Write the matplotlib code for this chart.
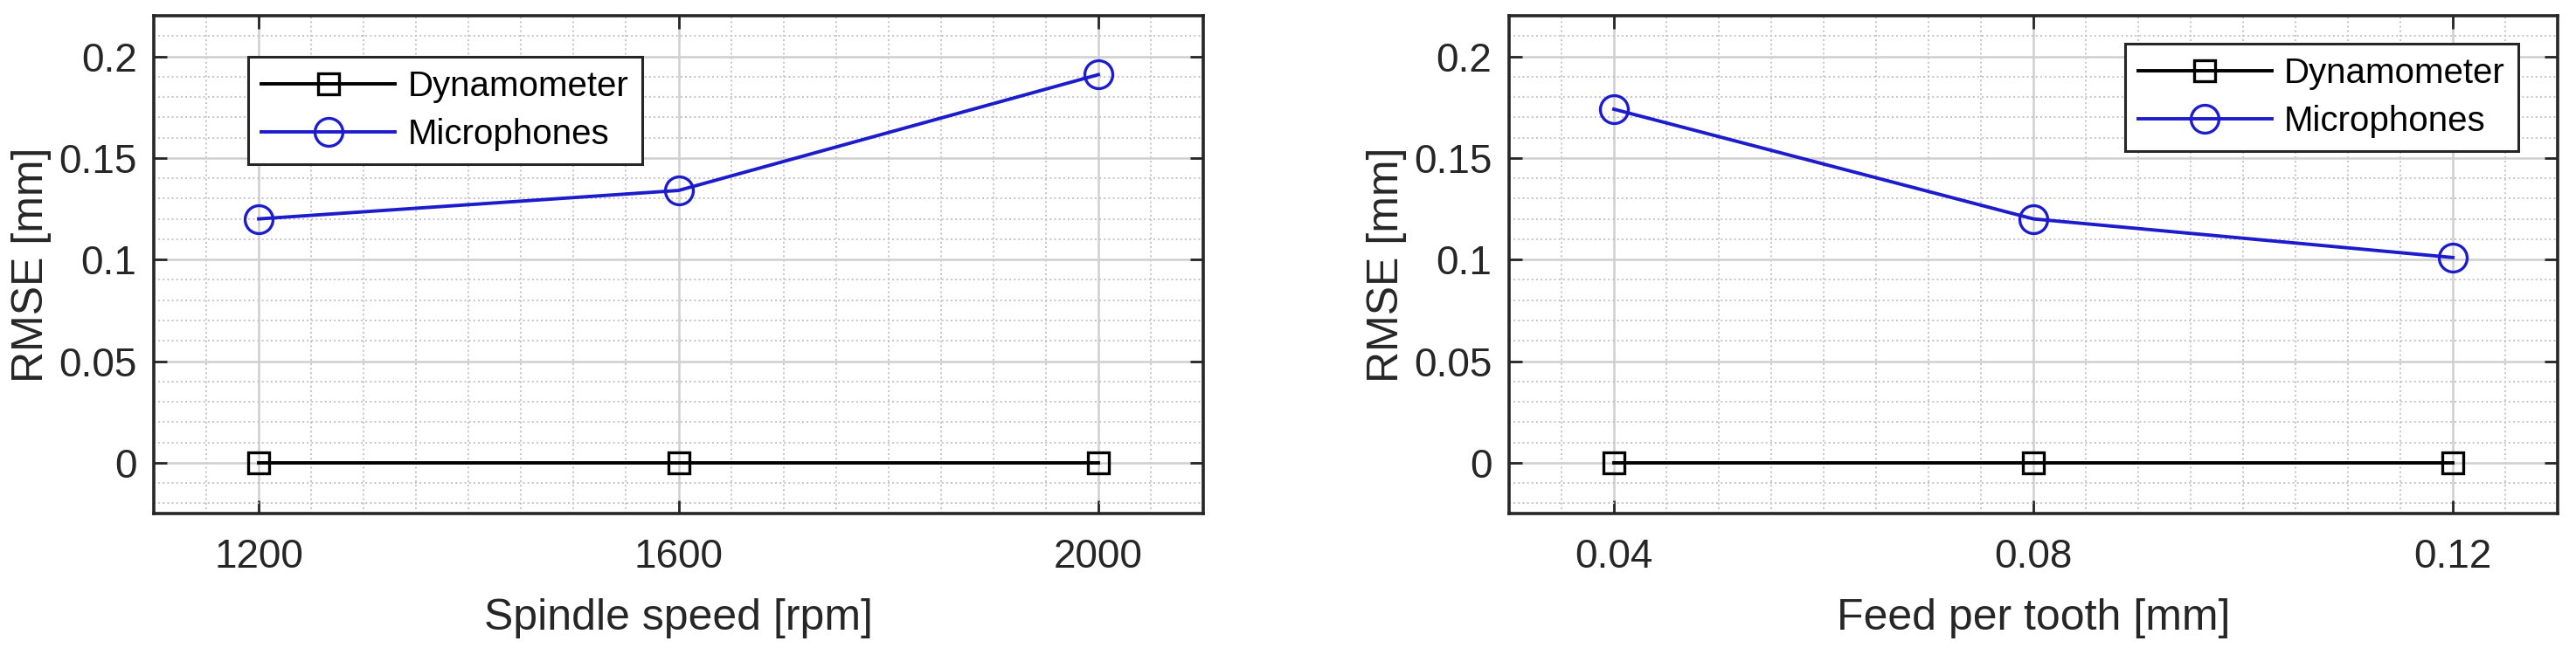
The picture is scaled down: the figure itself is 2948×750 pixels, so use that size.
import matplotlib.pyplot as plt
from matplotlib.ticker import MultipleLocator

plt.rcParams['font.family'] = ['Liberation Sans', 'DejaVu Sans']

# left panel: spindle speed
speed = [1200, 1600, 2000]
speed_dyn = [0.0, 0.0, 0.0]
speed_mic = [0.120, 0.134, 0.191]

# right panel: feed per tooth
feed = [0.04, 0.08, 0.12]
feed_dyn = [0.0, 0.0, 0.0]
feed_mic = [0.174, 0.120, 0.101]

yticks = [0, 0.05, 0.1, 0.15, 0.2]
ytick_labels = ['0', '0.05', '0.1', '0.15', '0.2']

blue = '#1c1ccc'
dark = '#262626'
fs_tick = 33
fs_label = 36


def style_axes(ax, xlim, xticks, xlabels, xminor):
    ax.set_xlim(*xlim)
    ax.set_ylim(-0.025, 0.22)
    ax.set_xticks(xticks)
    ax.set_xticklabels(xlabels)
    ax.set_yticks(yticks)
    ax.set_yticklabels(ytick_labels)
    ax.xaxis.set_minor_locator(MultipleLocator(xminor))
    ax.yaxis.set_minor_locator(MultipleLocator(0.01))
    ax.tick_params(which='major', direction='in', length=11, width=2,
                   top=True, right=True, labelsize=fs_tick, colors=dark)
    ax.tick_params(axis='x', which='major', pad=20)
    ax.tick_params(axis='y', which='major', pad=14)
    ax.tick_params(which='minor', length=0)
    ax.grid(which='major', color='#cfcfcf', linewidth=1.8, linestyle='-')
    ax.grid(which='minor', color='#c4c4c4', linewidth=1.4, linestyle=':')
    ax.set_axisbelow(True)
    for s in ax.spines.values():
        s.set_linewidth(2.6)
        s.set_color(dark)
    ax.set_ylabel('RMSE [mm]', fontsize=fs_label, labelpad=6, color=dark)


fig = plt.figure(figsize=(29.48, 7.5), dpi=100)
ax1 = fig.add_axes([0.0597, 0.216, 0.4074, 0.76])
ax2 = fig.add_axes([0.5858, 0.216, 0.4071, 0.76])

for ax, x, dyn, mic in [(ax1, speed, speed_dyn, speed_mic), (ax2, feed, feed_dyn, feed_mic)]:
    ax.plot(x, dyn, color='k', marker='s', markersize=17, markerfacecolor='none',
            markeredgewidth=2.4, linewidth=2.8, label='Dynamometer')
    ax.plot(x, mic, color=blue, marker='o', markersize=23, markerfacecolor='none',
            markeredgewidth=2.4, linewidth=2.8, label='Microphones')

style_axes(ax1, (1100, 2100), speed, ['1200', '1600', '2000'], 50)
style_axes(ax2, (0.03, 0.13), feed, ['0.04', '0.08', '0.12'], 0.005)
ax1.set_xlabel('Spindle speed [rpm]', fontsize=fs_label, labelpad=18, color=dark)
ax2.set_xlabel('Feed per tooth [mm]', fontsize=fs_label, labelpad=18, color=dark)

for ax, loc, anchor in [(ax1, 'upper left', (0.09, 0.918)), (ax2, 'upper right', (0.9625, 0.944))]:
    leg = ax.legend(loc=loc, bbox_to_anchor=anchor, fontsize=29, handlelength=3.8,
                    handletextpad=0.35, borderpad=0.38, labelspacing=0.42,
                    borderaxespad=0, fancybox=False, framealpha=1, edgecolor=dark)
    leg.get_frame().set_linewidth(2.2)

fig.savefig('out.png', dpi=100)
